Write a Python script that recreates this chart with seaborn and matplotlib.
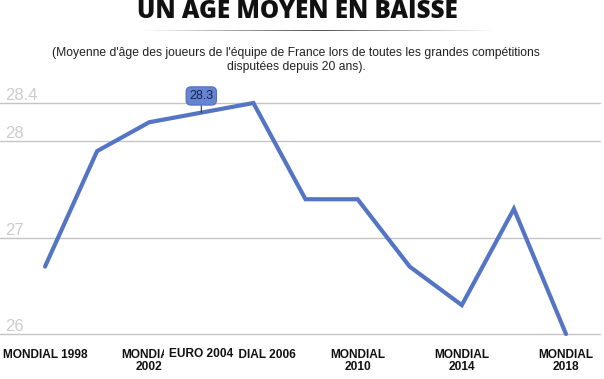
import matplotlib
matplotlib.use("Agg")
import matplotlib.pyplot as plt
import seaborn as sns
import pandas as pd
import numpy as np

competitions = ["MONDIAL 1998", "EURO 2000", "MONDIAL 2002", "EURO 2004", "MONDIAL 2006",
                "EURO 2008", "MONDIAL 2010", "EURO 2012", "MONDIAL 2014", "EURO 2016", "MONDIAL 2018"]
ages = [26.7, 27.9, 28.2, 28.3, 28.4, 27.4, 27.4, 26.7, 26.3, 27.3, 26.0]
tick_labels = ["MONDIAL 1998", "", "MONDIAL\n2002", "", "MONDIAL 2006",
               "", "MONDIAL\n2010", "", "MONDIAL\n2014", "", "MONDIAL\n2018"]
y_ticks = [26, 27, 28, 28.4]
y_tick_labels = ["26", "27", "28", "28.4"]
highlight_label = "EURO 2004"
highlight_value = 28.3

title = "UN ÂGE MOYEN EN BAISSE"
subtitle = ("(Moyenne d'âge des joueurs de l'équipe de France lors de toutes les grandes compétitions\n"
            "disputées depuis 20 ans).")

sns.set_theme(style="white")
plt.rcParams["font.family"] = ["Liberation Sans", "DejaVu Sans"]

W, H = 604, 379
fig = plt.figure(figsize=(W / 100, H / 100), dpi=100)
fig.patch.set_facecolor("white")

ax_left, ax_right = 0, 600
ax_top, ax_bot = 103, 334
ax = fig.add_axes([ax_left / W, (H - ax_bot) / H, (ax_right - ax_left) / W, (ax_bot - ax_top) / H])
ax.set_facecolor("none")

df = pd.DataFrame({"x": np.arange(len(competitions)), "age": ages})
line_color = "#5474c4"
sns.lineplot(data=df, x="x", y="age", ax=ax, color=line_color, linewidth=3.0, clip_on=False,
             solid_joinstyle="miter", zorder=3)

x0_px, dx_px = 45, 52.1
ax.set_xlim((ax_left - x0_px) / dx_px, (ax_right - x0_px) / dx_px)
ax.set_ylim(y_ticks[0], y_ticks[-1])

for v in y_ticks:
    ax.axhline(v, color="#c4c4c4", linewidth=1.0, zorder=1, clip_on=False)
for v, lab in zip(y_ticks, y_tick_labels):
    ax.text(5 / 600, v, lab, transform=ax.get_yaxis_transform(), ha="left", va="bottom",
            fontsize=12, color="#cccccc")

ax.set_xticks(df["x"])
ax.set_xticklabels(tick_labels, fontsize=8.6, fontweight="bold", color="#111111", linespacing=0.95)
ax.tick_params(axis="x", length=0, pad=11)
ax.set_yticks([])
ax.set_xlabel("")
ax.set_ylabel("")
for s in ax.spines.values():
    s.set_visible(False)

# highlighted category label (hover)
hi = competitions.index(highlight_label)
ax.annotate(highlight_label, xy=(hi, 0), xycoords=ax.get_xaxis_transform(),
            xytext=(0, -14.5), textcoords="offset points", ha="center", va="center",
            fontsize=8.6, fontweight="bold", color="#111111", zorder=6,
            bbox=dict(boxstyle="square,pad=0.45", fc="white", ec="none"))

# tooltip
ax.annotate(f"{highlight_value}", xy=(hi, highlight_value), xytext=(0, 12), textcoords="offset points",
            ha="center", va="center", fontsize=9, color="#15244f", zorder=7,
            bbox=dict(boxstyle="round,pad=0.25,rounding_size=0.4", fc="#6684cf", ec="#5070c0", lw=0.8),
            arrowprops=dict(arrowstyle="-", color="#333333", lw=0.8, shrinkA=0, shrinkB=0),
            annotation_clip=False)

# title and subtitle
fig.text(297 / W, 1 - 11 / H, title, ha="center", va="center", fontsize=17.5, fontweight="heavy",
         family=["Open Sans", "DejaVu Sans"], color="#111111")
# gradient rule under title
grad = np.concatenate([np.linspace(0, 1, 50), np.linspace(1, 0, 50)])
rule_ax = fig.add_axes([140 / W, 1 - 31 / H, 356 / W, 1.2 / H])
rule_ax.imshow(grad[None, :], aspect="auto", cmap=matplotlib.colors.LinearSegmentedColormap.from_list(
    "g", ["#ffffff", "#555555"]))
rule_ax.axis("off")

fig.text(296 / W, 1 - 60 / H, subtitle, ha="center", va="center", fontsize=8.7, color="#222222",
         linespacing=1.3)

fig.savefig("out.png", dpi=100, facecolor="white")
